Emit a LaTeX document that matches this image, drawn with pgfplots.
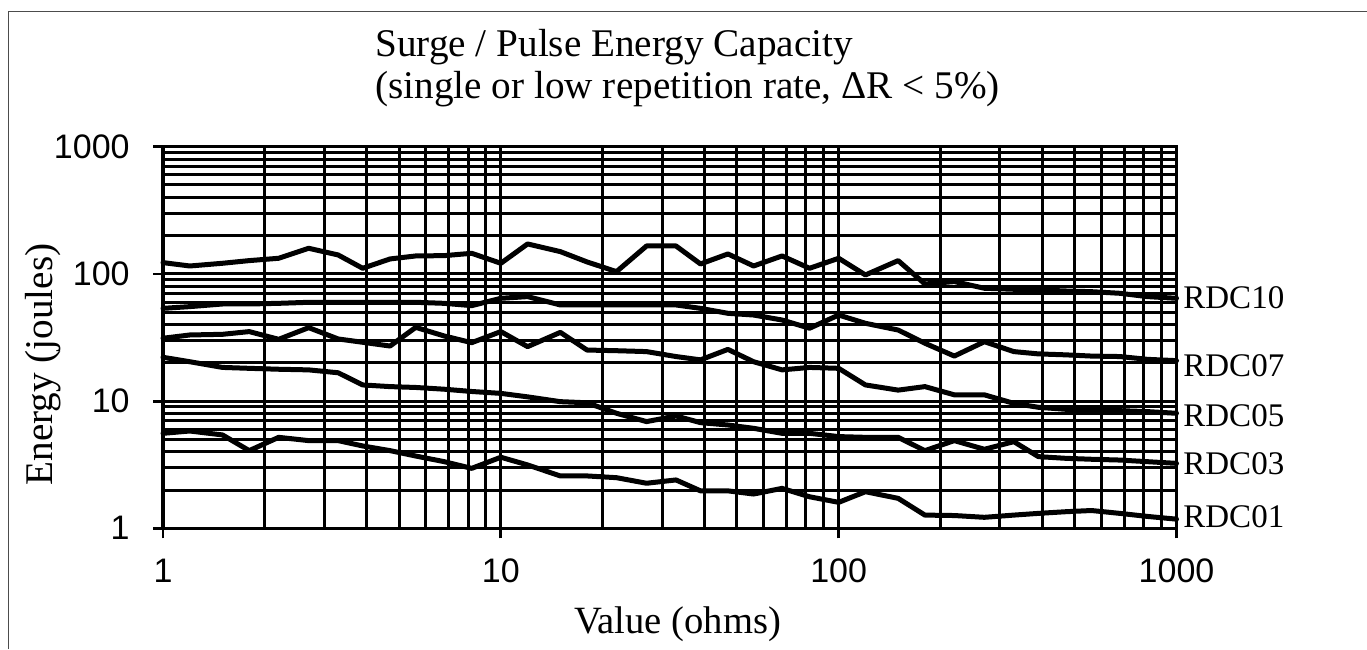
\documentclass[border=0pt]{standalone}
\usepackage{fontspec}
\setmainfont{Liberation Serif}
\setsansfont{Liberation Sans}
\usepackage{pgfplots}
\pgfplotsset{compat=1.18}
\usepackage{pgfplotstable}

\pgfplotstableread{
R A B C D E
1 122.7 53.6 31.2 22.1 5.58
1.2 115.4 55.3 33.1 20.4 5.82
1.5 121.2 58 33.5 18.4 5.42
1.8 127.2 58 35.2 18.1 4.08
2.2 132.7 58.7 30.6 17.8 5.19
2.7 159 59.8 37.8 17.6 4.89
3.3 140.9 59.8 30.8 16.7 4.89
3.9 110.7 59.8 29 13.4 4.44
4.7 131.1 59.8 27.1 13 4.08
5.6 138.4 59.8 38 12.8 3.7
6.8 139.2 58.7 32.5 12.4 3.34
8.2 145.2 56.3 28.8 11.9 2.96
10 121.2 64.3 35.2 11.5 3.62
12 172 66.3 26.8 10.8 3.15
15 149.7 57 34.7 9.9 2.58
18 124.2 57 25.2 9.7 2.58
22 104.2 57 24.9 8.02 2.5
27 165.8 57 24.5 6.9 2.26
33 165.8 57 22.4 7.64 2.4
39 119.7 53.6 21.1 6.77 1.97
47 143.5 49 25.5 6.49 1.97
56 115.4 47.5 20.4 6.11 1.86
68 138.4 43.4 17.6 5.58 2.06
82 110.7 37.4 18.4 5.58 1.77
100 132.7 47.5 18.1 5.26 1.6
120 98.1 40.9 13.4 5.19 1.94
150 127.2 36.2 12.2 5.19 1.72
180 83.3 28.5 13 4.08 1.27
220 87 22.6 11.2 4.89 1.26
270 77.1 29.3 11.2 4.18 1.22
330 75.7 24.5 9.6 4.8 1.27
390 74.8 23.5 8.94 3.66 1.31
470 73.4 23.1 8.62 3.55 1.35
560 72.5 22.6 8.52 3.49 1.38
680 70.4 22.4 8.41 3.44 1.31
820 66.3 21.3 8.27 3.34 1.24
1000 64.3 20.8 8.02 3.24 1.18
}\datatable

\begin{document}
\begin{tikzpicture}
\useasboundingbox (0,0) rectangle (683.5pt,324.5pt);
\draw[line width=0.5pt, black!70] (4pt,0pt) -- (4pt,318.5pt) -- (683.5pt,318.5pt);
\begin{axis}[
  at={(81.5pt,60.35pt)}, anchor=south west,
  scale only axis, width=506.75pt, height=190.8pt,
  xmode=log, ymode=log,
  xmin=1, xmax=1000, ymin=1, ymax=1000,
  xtick={1,10,100,1000}, xticklabels={1,10,100,1000},
  ytick={1,10,100,1000}, yticklabels={1,10,100,1000},
  grid=both,
  major grid style={line width=1.5pt, black},
  minor grid style={line width=1.5pt, black},
  axis line style={line width=1.6pt, black},
  tick align=outside,
  major tick length=5pt, minor tick length=0pt,
  xtick pos=bottom, ytick pos=left,
  tick style={line width=1.4pt, black},
  ticklabel style={font=\sffamily\fontsize{17}{17}\selectfont, inner sep=0pt},
  yticklabel style={anchor=east, xshift=-11.5pt},
  xticklabel style={anchor=base, yshift=-22pt},
  clip=false,
]
\addplot[line width=2.5pt, black, line join=round, line cap=round, mark=none] table[x=R, y=A] {\datatable};
\addplot[line width=2.5pt, black, line join=round, line cap=round, mark=none] table[x=R, y=B] {\datatable};
\addplot[line width=2.5pt, black, line join=round, line cap=round, mark=none] table[x=R, y=C] {\datatable};
\addplot[line width=2.5pt, black, line join=round, line cap=round, mark=none] table[x=R, y=D] {\datatable};
\addplot[line width=2.5pt, black, line join=round, line cap=round, mark=none] table[x=R, y=E] {\datatable};
\end{axis}
\begin{scope}[every node/.style={inner sep=0pt}]
\node[anchor=base west, font=\fontsize{19.6}{19.6}\selectfont] at (187.5pt,296pt) {Surge / Pulse Energy Capacity};
\node[anchor=base west, font=\fontsize{19.6}{19.6}\selectfont] at (187.5pt,275pt) {(single or low repetition rate, ΔR < 5\%)};
\node[anchor=base, font=\fontsize{19.3}{19.3}\selectfont] at (338.75pt,8pt) {Value (ohms)};
\node[anchor=base, rotate=90, font=\fontsize{19.6}{19.6}\selectfont] at (26pt,142.25pt) {Energy (joules)};
\node[anchor=base west, font=\fontsize{16.5}{16.5}\selectfont] at (591.5pt,170pt) {RDC10};
\node[anchor=base west, font=\fontsize{16.5}{16.5}\selectfont] at (591.5pt,136pt) {RDC07};
\node[anchor=base west, font=\fontsize{16.5}{16.5}\selectfont] at (591.5pt,111pt) {RDC05};
\node[anchor=base west, font=\fontsize{16.5}{16.5}\selectfont] at (591.5pt,87.5pt) {RDC03};
\node[anchor=base west, font=\fontsize{16.5}{16.5}\selectfont] at (591.5pt,60.5pt) {RDC01};
\end{scope}
\end{tikzpicture}
\end{document}
